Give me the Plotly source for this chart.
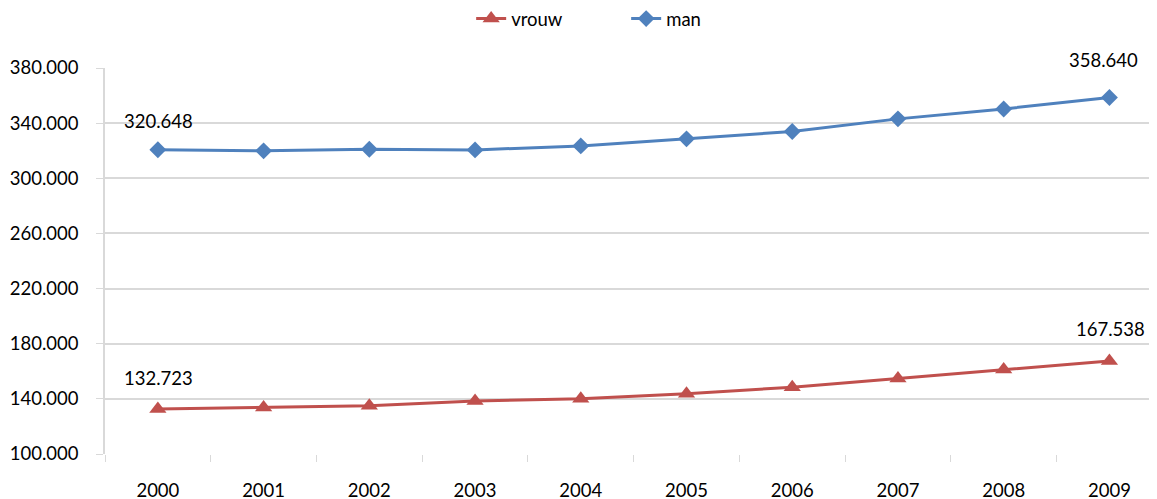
import plotly.graph_objects as go

years = ["2000", "2001", "2002", "2003", "2004", "2005", "2006", "2007", "2008", "2009"]
vrouw = [132723, 133800, 135000, 138400, 140100, 143700, 148500, 154800, 161300, 167538]
man = [320648, 319900, 321100, 320600, 323500, 328600, 333900, 343100, 350300, 358640]
y_ticks = [100000, 140000, 180000, 220000, 260000, 300000, 340000, 380000]

RED = "#C0504D"
BLUE = "#4F81BD"
GRID = "#D9D9D9"
FONT = "Lato"
FS = 18.5

def nl(v):
    return f"{v:,}".replace(",", ".")

fig = go.Figure()
fig.add_trace(go.Scatter(x=years, y=vrouw, name="vrouw", mode="lines+markers",
                         line=dict(color=RED, width=3),
                         marker=dict(symbol="triangle-up", size=15, color=RED)))
fig.add_trace(go.Scatter(x=years, y=man, name="man", mode="lines+markers",
                         line=dict(color=BLUE, width=3),
                         marker=dict(symbol="diamond", size=13, color=BLUE)))

# label offsets (px): (first yshift, last yshift, last xshift)
label_offsets = {"vrouw": (31, 32, 1), "man": (29, 37, -6)}
annotations = []
for name, series in (("vrouw", vrouw), ("man", man)):
    y0, y1, x1 = label_offsets[name]
    for idx, ys, xs in ((0, y0, 1), (len(years) - 1, y1, x1)):
        annotations.append(dict(x=idx, y=series[idx], xref="x", yref="y",
                                text=nl(series[idx]),
                                showarrow=False, yshift=ys, xshift=xs,
                                font=dict(family=FONT, size=FS, color="#000000")))

# page body has an 8px margin: figure is sized/offset to compensate
fig.update_layout(
    width=1149, height=491,
    margin=dict(l=97, r=0, t=60, b=45, autoexpand=False),
    paper_bgcolor="white", plot_bgcolor="white",
    separators=",.",
    font=dict(family=FONT, size=FS, color="#000000"),
    showlegend=True,
    legend=dict(orientation="h", x=0.538, xref="container", xanchor="center",
                y=1.176, yref="paper", yanchor="top",
                font=dict(family=FONT, size=FS), entrywidth=110,
                entrywidthmode="pixels", bgcolor="rgba(0,0,0,0)"),
    annotations=annotations,
)
fig.update_xaxes(type="category", range=[-0.5, 9.45], tickson="boundaries",
                 ticks="outside", ticklen=7, tickcolor=GRID, showgrid=False,
                 showline=False, ticklabelstandoff=23, zeroline=False,
                 automargin=False)
fig.update_yaxes(range=[100000, 380000], tickvals=y_ticks, tickformat=",",
                 showgrid=True, gridcolor=GRID, gridwidth=1.5,
                 ticks="outside", ticklen=7, tickcolor=GRID,
                 showline=True, linecolor=GRID, linewidth=1.5,
                 ticklabelstandoff=14, zeroline=False, automargin=False)

fig.write_html("out.html")
